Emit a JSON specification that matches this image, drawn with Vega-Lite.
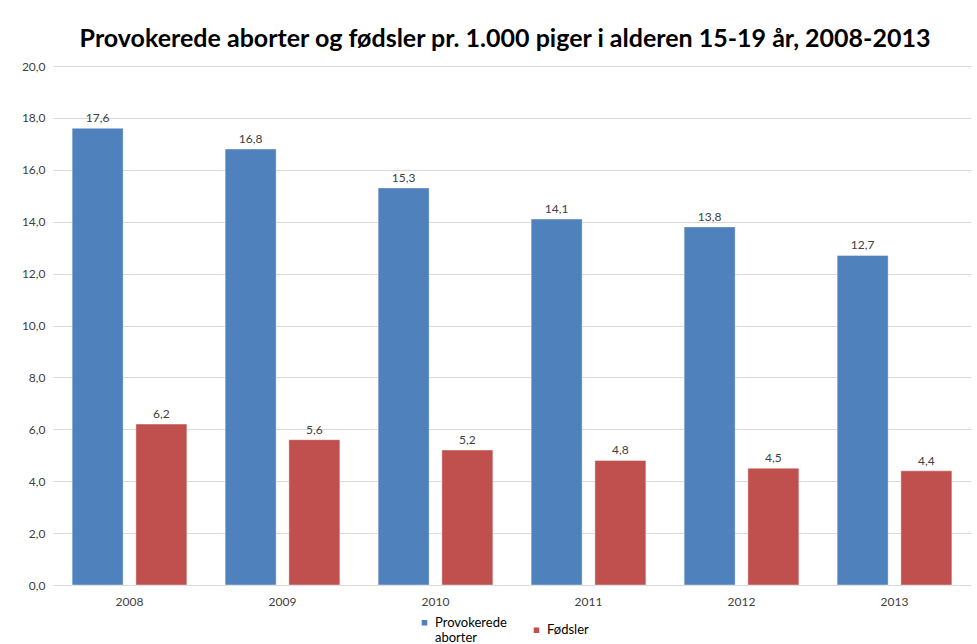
{
  "$schema": "https://vega.github.io/schema/vega-lite/v6.json",
  "autosize": "none",
  "width": 918,
  "height": 519,
  "padding": {"left": 53, "top": 66, "right": 6, "bottom": 59},
  "background": "white",
  "config": {
    "locale": {"number": {"decimal": ",", "thousands": ".", "grouping": [3], "currency": ["", " kr"]}},
    "font": "Lato",
    "view": {"stroke": null}
  },
  "title": {
    "text": "Provokerede aborter og fødsler pr. 1.000 piger i alderen 15-19 år, 2008-2013",
    "font": "Lato",
    "fontSize": 25,
    "fontWeight": "bold",
    "color": "#000000",
    "anchor": "middle",
    "offset": 8,
    "dx": -7
  },
  "data": {
    "values": [
      {"year": "2008", "serie": "Provokerede aborter", "value": 17.6},
      {"year": "2008", "serie": "Fødsler", "value": 6.2},
      {"year": "2009", "serie": "Provokerede aborter", "value": 16.8},
      {"year": "2009", "serie": "Fødsler", "value": 5.6},
      {"year": "2010", "serie": "Provokerede aborter", "value": 15.3},
      {"year": "2010", "serie": "Fødsler", "value": 5.2},
      {"year": "2011", "serie": "Provokerede aborter", "value": 14.1},
      {"year": "2011", "serie": "Fødsler", "value": 4.8},
      {"year": "2012", "serie": "Provokerede aborter", "value": 13.8},
      {"year": "2012", "serie": "Fødsler", "value": 4.5},
      {"year": "2013", "serie": "Provokerede aborter", "value": 12.7},
      {"year": "2013", "serie": "Fødsler", "value": 4.4}
    ]
  },
  "encoding": {
    "x": {
      "field": "year", "type": "nominal",
      "scale": {"paddingInner": 0.25, "paddingOuter": 0.125},
      "axis": {"title": null, "labelAngle": 0, "ticks": false, "domain": false, "labelFontSize": 12, "labelColor": "#404040", "labelPadding": 11}
    },
    "xOffset": {"field": "serie", "type": "nominal", "sort": ["Provokerede aborter", "Fødsler"], "scale": {"paddingInner": 0.2}},
    "y": {
      "field": "value", "type": "quantitative",
      "scale": {"domain": [0, 20]},
      "axis": {"title": null, "tickCount": 10, "format": ".1f", "ticks": false, "domain": false, "gridColor": "#d9d9d9", "labelFontSize": 12, "labelColor": "#404040", "labelPadding": 8}
    }
  },
  "layer": [
    {
      "mark": {"type": "bar", "stroke": "#ffffff", "strokeOpacity": 0.4, "strokeWidth": 1},
      "encoding": {
        "color": {
          "field": "serie", "type": "nominal",
          "sort": ["Provokerede aborter", "Fødsler"],
          "scale": {"domain": ["Provokerede aborter", "Fødsler"], "range": ["#4F81BD", "#C0504D"]},
          "legend": {
            "title": null, "orient": "none", "legendX": 365, "legendY": 550, "direction": "horizontal",
            "symbolType": "square", "symbolSize": 50, "labelFontSize": 13, "labelColor": "#000000",
            "columnPadding": 22, "labelOffset": 4,
            "labelExpr": "datum.label == 'Provokerede aborter' ? ['Provokerede', 'aborter'] : datum.label"
          }
        }
      }
    },
    {
      "mark": {"type": "text", "dy": -10, "fontSize": 12, "color": "#404040"},
      "encoding": {
        "text": {"field": "value", "type": "quantitative", "format": ".1f"}
      }
    }
  ]
}
